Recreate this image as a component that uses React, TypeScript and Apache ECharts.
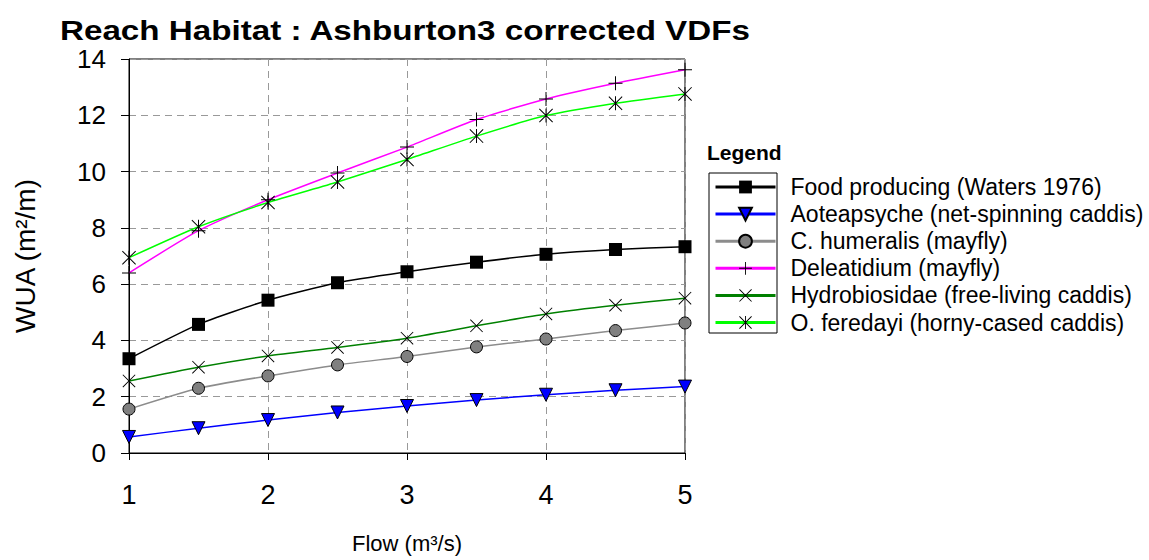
import React, { useEffect, useRef } from "react";
import * as echarts from "echarts";

// Flow (m³/s) at which each habitat curve is sampled
const flows = [1, 1.5, 2, 2.5, 3, 3.5, 4, 4.5, 5];

// Weighted usable area (m²/m) for each invertebrate group
const foodProducing = [3.35, 4.57, 5.43, 6.05, 6.44, 6.78, 7.06, 7.23, 7.33];
const aoteapsyche = [0.57, 0.88, 1.17, 1.44, 1.67, 1.88, 2.07, 2.23, 2.36];
const cHumeralis = [1.56, 2.3, 2.74, 3.13, 3.43, 3.77, 4.05, 4.35, 4.62];
const deleatidium = [6.4, 7.9, 9.0, 9.95, 10.87, 11.85, 12.58, 13.14, 13.62];
const hydrobiosidae = [2.56, 3.05, 3.45, 3.75, 4.08, 4.52, 4.94, 5.25, 5.5];
const oFeredayi = [6.94, 8.04, 8.9, 9.63, 10.43, 11.26, 11.99, 12.43, 12.76];

const seriesNames = [
  "Food producing (Waters 1976)",
  "Aoteapsyche (net-spinning caddis)",
  "C. humeralis (mayfly)",
  "Deleatidium (mayfly)",
  "Hydrobiosidae (free-living caddis)",
  "O. feredayi (horny-cased caddis)",
];

const yTicks = [0, 2, 4, 6, 8, 10, 12, 14];
const xTicks = [1, 2, 3, 4, 5];

const TITLE = "Reach Habitat : Ashburton3 corrected VDFs";
const FONT = "'Liberation Sans', Arial, sans-serif";

// Marker glyphs built from thin filled bars
const PLUS = "path://M9.3,0 H10.7 V9.3 H20 V10.7 H10.7 V20 H9.3 V10.7 H0 V9.3 H9.3 Z";
const CROSS = "path://M0,1 L1,0 L20,19 L19,20 Z M19,0 L20,1 L1,20 L0,19 Z";
const STAR =
  "path://M0,1 L1,0 L20,19 L19,20 Z M19,0 L20,1 L1,20 L0,19 Z M9.3,0 H10.7 V20 H9.3 Z";
const TRI_DOWN = "path://M0,0 L20,0 L10,17 Z";

function pairs(values: number[]) {
  return flows.map((f, i) => [f, values[i]]);
}

export default function App() {
  const ref = useRef<HTMLDivElement>(null);

  useEffect(() => {
    if (!ref.current) return;
    const chart = echarts.init(ref.current, null, { renderer: "svg" });

    const mk = (
      name: string,
      values: number[],
      lineColor: string,
      symbol: string,
      symbolSize: number,
      fill: string,
      border: number
    ) => ({
      type: "line",
      name,
      data: pairs(values),
      smooth: 0.2,
      symbol,
      symbolSize,
      showAllSymbol: true,
      lineStyle: { color: lineColor, width: 1.5 },
      itemStyle: { color: fill, borderColor: "#000", borderWidth: border },
      emphasis: { disabled: true },
      z: 3,
    });

    chart.setOption({
      animation: false,
      backgroundColor: "#fff",
      grid: {
        left: 129,
        top: 59,
        width: 556,
        height: 394,
        show: true,
        borderColor: "#000",
        borderWidth: 1,
        backgroundColor: "transparent",
      },
      xAxis: {
        type: "value",
        min: xTicks[0],
        max: xTicks[xTicks.length - 1],
        interval: 1,
        name: "Flow (m³/s)",
        nameLocation: "middle",
        nameGap: 79,
        nameTextStyle: { fontFamily: FONT, fontSize: 22, color: "#000" },
        axisLine: { lineStyle: { color: "#000", width: 1 } },
        axisTick: { length: 7, lineStyle: { color: "#000" } },
        axisLabel: { fontFamily: FONT, fontSize: 27, color: "#000", margin: 28 },
        splitLine: {
          show: true,
          lineStyle: { color: "#999", type: [7, 5], width: 1 },
        },
      },
      yAxis: {
        type: "value",
        min: yTicks[0],
        max: yTicks[yTicks.length - 1],
        interval: 2,
        name: "WUA (m²/m)",
        nameLocation: "middle",
        nameGap: 90,
        nameTextStyle: { fontFamily: FONT, fontSize: 28, color: "#000" },
        axisLine: { show: true, lineStyle: { color: "#000", width: 1 } },
        axisTick: { show: true, length: 8, lineStyle: { color: "#000" } },
        axisLabel: { fontFamily: FONT, fontSize: 26, color: "#000", margin: 23 },
        splitLine: {
          show: true,
          lineStyle: { color: "#999", type: [7, 5], width: 1 },
        },
      },
      legend: {
        orient: "vertical",
        left: 714,
        top: 175.5,
        padding: 0,
        itemWidth: 60,
        itemHeight: 16,
        itemGap: 4.1,
        data: seriesNames,
        lineStyle: { width: 3 },
        textStyle: {
          fontFamily: FONT,
          fontSize: 23,
          color: "#000",
          padding: [0, 0, 0, 10],
        },
      },
      graphic: [
        {
          type: "text",
          x: 60,
          y: 30,
          scaleX: 1.185,
          style: {
            text: TITLE,
            fontFamily: FONT,
            fontSize: 28,
            fontWeight: "bold",
            fill: "#000",
            verticalAlign: "middle",
          },
        },
        {
          type: "rect",
          shape: { x: 709, y: 173, width: 68, height: 160 },
          style: { fill: "none", stroke: "#000", lineWidth: 1 },
          z: 100,
        },
        {
          type: "text",
          x: 707,
          y: 152,
          style: {
            text: "Legend",
            fontFamily: FONT,
            fontSize: 21,
            fontWeight: "bold",
            fill: "#000",
            verticalAlign: "middle",
          },
        },
      ],
      series: [
        mk(seriesNames[0], foodProducing, "#000000", "rect", 13, "#000000", 0),
        mk(seriesNames[1], aoteapsyche, "#0000ff", TRI_DOWN, 13, "#0000ff", 1),
        mk(seriesNames[2], cHumeralis, "#8c8c8c", "circle", 12, "#808080", 1),
        mk(seriesNames[3], deleatidium, "#ff00ff", PLUS, 14, "#000000", 0),
        mk(seriesNames[4], hydrobiosidae, "#008000", CROSS, 13, "#000000", 0),
        mk(seriesNames[5], oFeredayi, "#00ff00", STAR, 14, "#000000", 0),
      ],
    });

    return () => chart.dispose();
  }, []);

  return (
    <div
      ref={ref}
      style={{
        position: "fixed",
        left: 0,
        top: 0,
        width: 1149,
        height: 560,
        background: "#fff",
      }}
    />
  );
}
